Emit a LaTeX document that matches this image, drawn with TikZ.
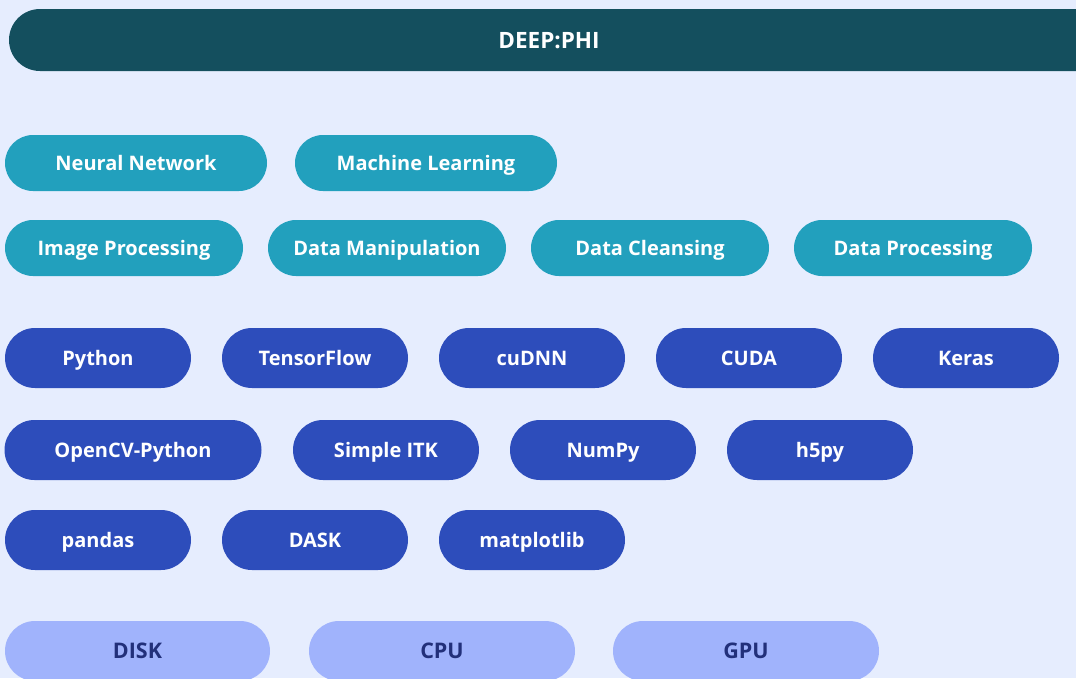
\documentclass[tikz,border=0pt]{standalone}
\usepackage{fontspec}
\setmainfont{Open Sans}
\definecolor{pagebg}{HTML}{E6EDFE}
\definecolor{headbg}{HTML}{144F5E}
\definecolor{topicbg}{HTML}{22A0BD}
\definecolor{libbg}{HTML}{2D4DBB}
\definecolor{hwbg}{HTML}{A0B3FC}
\definecolor{hwtext}{HTML}{22307A}
\begin{document}
\begin{tikzpicture}[x=1pt, y=-1pt,
    pill/.style={rounded corners=28pt, minimum height=56pt, inner sep=0pt,
        font=\fontsize{20}{24}\selectfont\bfseries, text=white,
        text height=14.3pt, text depth=0pt},
    topic/.style={pill, fill=topicbg},
    lib/.style={pill, fill=libbg, rounded corners=30pt, minimum height=60pt},
    hw/.style={pill, fill=hwbg, text=hwtext, rounded corners=30pt, minimum height=60pt,
        font=\fontsize{21.5}{24}\selectfont\bfseries, text height=15.3pt}]
    % Background
    \fill[pagebg] (0,0) rectangle (1076,678);
    \useasboundingbox (0,0) rectangle (1076,678);
    \clip (0,0) rectangle (1076,678);

    % Header bar
    \node[pill, fill=headbg, rounded corners=31pt, minimum height=62pt, minimum width=1100pt] (deepphi) at (559,40) {};
    \node[pill, text=white, font=\fontsize{22.5}{26}\selectfont\bfseries, text height=16pt] (title) at (549,40.5) {DEEP:PHI};

    % Topics
    \node[topic, minimum width=262pt] (nn) at (136,163) {Neural Network};
    \node[topic, minimum width=262pt] (ml) at (426,163) {Machine Learning};
    \node[topic, minimum width=238pt] (imgproc) at (124,248) {Image Processing};
    \node[topic, minimum width=238pt] (datamanip) at (387,248) {Data Manipulation};
    \node[topic, minimum width=238pt] (dataclean) at (650,248) {Data Cleansing};
    \node[topic, minimum width=238pt] (dataproc) at (913,248) {Data Processing};

    % Libraries
    \node[lib, minimum width=186pt] (python) at (98,358) {Python};
    \node[lib, minimum width=186pt] (tf) at (315,358) {TensorFlow};
    \node[lib, minimum width=186pt] (cudnn) at (532,358) {cuDNN};
    \node[lib, minimum width=186pt] (cuda) at (749,358) {CUDA};
    \node[lib, minimum width=186pt] (keras) at (966,358) {Keras};
    \node[lib, minimum width=257pt] (opencv) at (133,450) {OpenCV-Python};
    \node[lib, minimum width=186pt] (itk) at (386,450) {Simple ITK};
    \node[lib, minimum width=186pt] (numpy) at (603,450) {NumPy};
    \node[lib, minimum width=186pt] (h5py) at (820,450) {h5py};
    \node[lib, minimum width=186pt] (pandas) at (98,540) {pandas};
    \node[lib, minimum width=186pt] (dask) at (315,540) {DASK};
    \node[lib, minimum width=186pt] (mpl) at (532,540) {matplotlib};

    % Hardware
    \node[hw, minimum width=265pt] (disk) at (137.5,651) {DISK};
    \node[hw, minimum width=266pt] (cpu) at (442,651) {CPU};
    \node[hw, minimum width=266pt] (gpu) at (746,651) {GPU};
\end{tikzpicture}
\end{document}
